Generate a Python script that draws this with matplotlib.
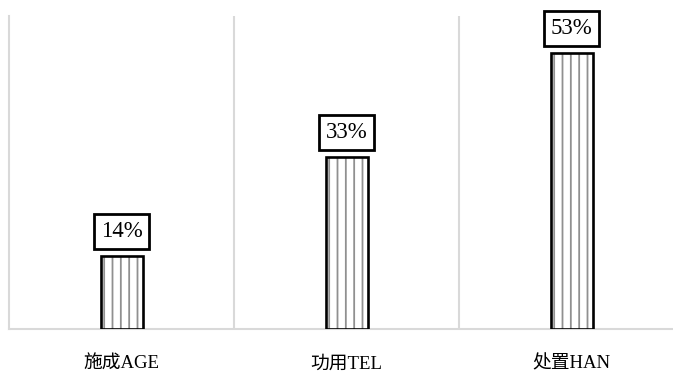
import matplotlib.pyplot as plt

# 类别与占比
categories = ['施成AGE', '功用TEL', '处置HAN']
values = [14, 33, 53]
labels = ['14%', '33%', '53%']

plt.rcParams['hatch.linewidth'] = 1.3

fig = plt.figure(figsize=(6.73, 3.74), dpi=100)
ax = fig.add_axes([9 / 673, 45 / 374, 675 / 673, 313 / 374])

x = range(len(categories))
w = 42 / 225
# 灰色竖条纹填充，再叠一层黑色边框
ax.bar(x, values, width=w, color='white', edgecolor='#909090',
       linewidth=0, hatch='||', zorder=3)
ax.bar(x, values, width=w, fill=False, edgecolor='black',
       linewidth=1.9, zorder=4)

for xi, v, lab in zip(x, values, labels):
    ax.annotate(lab, (xi, v), xytext=(0, 10), textcoords='offset points',
                ha='center', va='bottom', fontsize=16.5, fontweight='medium',
                family='Liberation Serif',
                bbox=dict(boxstyle='square,pad=0.3', fc='white', ec='black', lw=2.0))

ax.set_xlim(-0.5, 2.5)
ax.set_ylim(0, 60)
ax.set_xticks(list(x))
ax.set_xticklabels(categories, family=['Liberation Serif', 'Noto Sans CJK SC'], fontsize=13.5)
ax.tick_params(axis='x', length=0, pad=19)
ax.set_yticks([])

# 分隔线
for b in [0.5, 1.5]:
    ax.axvline(b, color='#d9d9d9', lw=1.5, zorder=1)
for s in ['top', 'right']:
    ax.spines[s].set_visible(False)
for s in ['left', 'bottom']:
    ax.spines[s].set_color('#d9d9d9')
    ax.spines[s].set_linewidth(1.5)

fig.savefig('out.png', dpi=100)
